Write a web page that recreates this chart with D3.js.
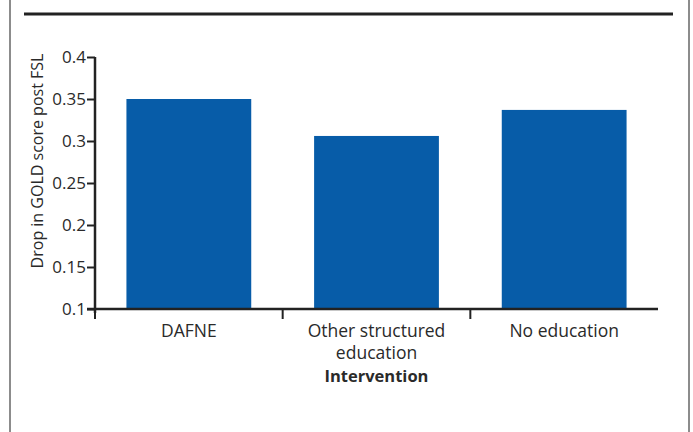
<!DOCTYPE html>
<html>
<head>
<meta charset="utf-8">
<script src="https://cdn.jsdelivr.net/npm/d3@7"></script>
<style>
  body { margin: 0; background: #fff; }
  text { font-family: 'Open Sans', sans-serif; fill: #2a2a2a; }
</style>
</head>
<body>
<div id="chart"></div>
<script>
const categories = [['DAFNE'], ['Other structured', 'education'], ['No education']];
const values = [0.35, 0.306, 0.337];
const yTicks = [0.1, 0.15, 0.2, 0.25, 0.3, 0.35, 0.4];
const yTickLabels = ['0.1', '0.15', '0.2', '0.25', '0.3', '0.35', '0.4'];

const W = 693, H = 432;
const margin = { left: 95, right: 35, top: 57, bottom: 123 };
const width = W - margin.left - margin.right,
  height = H - margin.top - margin.bottom;

const svg = d3.select('#chart')
  .append('svg')
  .attr('width', W)
  .attr('height', H);

// frame
svg.append('line').attr('x1', 10).attr('x2', 10).attr('y1', 0).attr('y2', H)
  .attr('stroke', '#666').attr('stroke-width', 1.5);
svg.append('line').attr('x1', 689).attr('x2', 689).attr('y1', 0).attr('y2', H)
  .attr('stroke', '#666').attr('stroke-width', 1.5);
svg.append('line').attr('x1', 24).attr('x2', 673).attr('y1', 14).attr('y2', 14)
  .attr('stroke', '#222').attr('stroke-width', 3);

const g = svg.append('g')
  .attr('transform', `translate(${margin.left},${margin.top})`);

const keys = categories.map((d, i) => i);
const xScale = d3.scaleBand().domain(keys).range([0, width]);
const barScale = d3.scaleBand().domain(keys).range([0, width])
  .paddingInner(0.335).paddingOuter(0.1675);
const yScale = d3.scaleLinear().domain([0.1, 0.4]).range([height, 0]);

// bars
g.selectAll('rect')
  .data(values)
  .enter()
  .append('rect')
  .attr('x', (d, i) => barScale(i))
  .attr('y', d => yScale(d))
  .attr('width', barScale.bandwidth())
  .attr('height', d => height - yScale(d))
  .attr('fill', '#075ca8');

// y axis (lines from d3.axisLeft, labels drawn as plain text)
const yAxisGroup = g.append('g')
  .call(d3.axisLeft(yScale).tickValues(yTicks).tickSize(8).tickFormat(''));
yAxisGroup.select('.domain').attr('stroke', '#222').attr('stroke-width', 2.5)
  .attr('d', `M0,0V${height + 4}`);
yAxisGroup.selectAll('.tick line').attr('stroke', '#222').attr('stroke-width', 2);

g.append('g')
  .selectAll('text')
  .data(yTicks)
  .enter()
  .append('text')
  .attr('x', -9)
  .attr('y', d => yScale(d))
  .attr('dy', '0.36em')
  .attr('text-anchor', 'end')
  .style('font-size', '17px')
  .text((d, i) => yTickLabels[i]);

// x axis
const xAxisGroup = g.append('g').attr('transform', `translate(0,${height})`);
xAxisGroup.append('line').attr('x1', -8).attr('x2', width)
  .attr('stroke', '#222').attr('stroke-width', 2.5);
xAxisGroup.selectAll('.cat-tick')
  .data(keys)
  .enter()
  .append('line')
  .attr('x1', d => xScale(d)).attr('x2', d => xScale(d))
  .attr('y1', 0).attr('y2', 10)
  .attr('stroke', '#222').attr('stroke-width', 2);

const labels = xAxisGroup.selectAll('.cat-label')
  .data(categories)
  .enter()
  .append('text')
  .attr('text-anchor', 'middle')
  .style('font-size', '17.5px')
  .attr('transform', (d, i) => `translate(${xScale(i) + xScale.bandwidth() / 2},0)`);
labels.selectAll('tspan')
  .data(d => d)
  .enter()
  .append('tspan')
  .attr('x', 0)
  .attr('y', (d, i) => 28 + i * 22)
  .text(d => d);

// axis titles
g.append('text')
  .attr('x', xScale(1) + xScale.bandwidth() / 2)
  .attr('y', height + 73)
  .attr('text-anchor', 'middle')
  .style('font-size', '16.5px')
  .style('font-weight', 'bold')
  .text('Intervention');

g.append('text')
  .attr('transform', 'rotate(-90)')
  .attr('x', -(161 - margin.top))
  .attr('y', -52)
  .attr('text-anchor', 'middle')
  .style('font-size', '16px')
  .text('Drop in GOLD score post FSL');
</script>
</body>
</html>
